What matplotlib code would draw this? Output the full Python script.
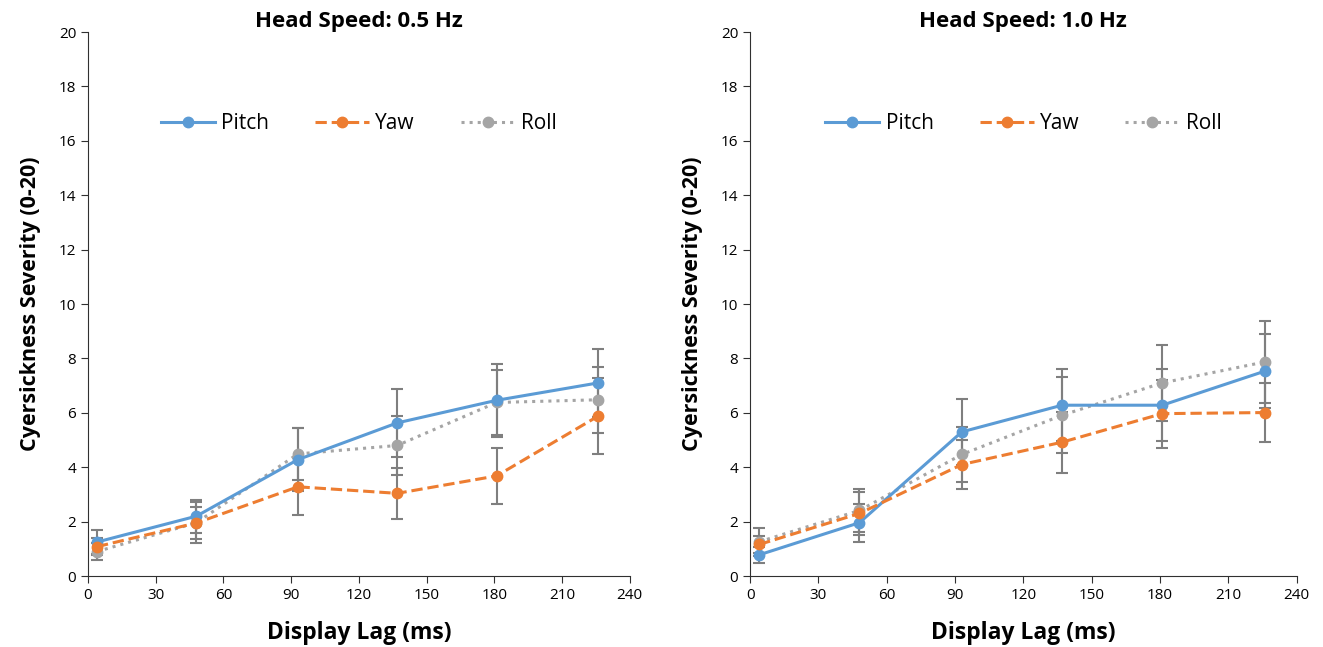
import numpy as np
import matplotlib.pyplot as plt

plt.rcParams['font.family'] = ['Open Sans', 'DejaVu Sans']

lag = [4, 48, 93, 137, 181, 226]

# Head speed 0.5 Hz
pitch_05 = [1.25, 2.2, 4.28, 5.63, 6.46, 7.1]
pitch_05_err = [0.45, 0.6, 1.15, 1.25, 1.34, 1.25]
yaw_05 = [1.08, 1.95, 3.28, 3.04, 3.68, 5.88]
yaw_05_err = [0.3, 0.6, 1.05, 0.94, 1.03, 1.4]
roll_05 = [0.9, 1.96, 4.49, 4.8, 6.38, 6.48]
roll_05_err = [0.3, 0.75, 0.95, 1.08, 1.2, 1.22]

# Head speed 1.0 Hz
pitch_10 = [0.78, 1.96, 5.3, 6.28, 6.28, 7.53]
pitch_10_err = [0.29, 0.7, 1.22, 1.33, 1.33, 1.35]
yaw_10 = [1.16, 2.3, 4.1, 4.92, 5.97, 6.01]
yaw_10_err = [0.3, 0.8, 0.9, 1.12, 1.25, 1.1]
roll_10 = [1.26, 2.41, 4.47, 5.91, 7.1, 7.87]
roll_10_err = [0.51, 0.8, 1.0, 1.4, 1.4, 1.5]

titles = ['Head Speed: 0.5 Hz', 'Head Speed: 1.0 Hz']
sets = [(pitch_05, pitch_05_err, yaw_05, yaw_05_err, roll_05, roll_05_err),
        (pitch_10, pitch_10_err, yaw_10, yaw_10_err, roll_10, roll_10_err)]

blue = '#5B9BD5'
orange = '#ED7D31'
grey = '#A5A5A5'
ecol = '#7F7F7F'

fig = plt.figure(figsize=(13.23, 6.47), dpi=100)
ax1 = fig.add_axes([0.0665, 0.1097, 0.4095, 0.8408])
ax2 = fig.add_axes([0.567, 0.1097, 0.413, 0.8408])

for ax, title, d in zip([ax1, ax2], titles, sets):
    p, pe, y, ye, r, re = d
    for v, e in [(p, pe), (y, ye), (r, re)]:
        ax.errorbar(lag, v, yerr=e, fmt='none', ecolor=ecol, elinewidth=1.5,
                    capsize=4, capthick=1.5, zorder=1)
    ax.plot(lag, p, '-', color=blue, lw=2.2, marker='o', ms=7.5, label='Pitch', zorder=3)
    ax.plot(lag, y, '--', color=orange, lw=2.2, marker='o', ms=7.5, label='Yaw', zorder=3)
    ax.plot(lag, r, ':', color=grey, lw=2.2, marker='o', ms=7.5, label='Roll', zorder=2)

    ax.set_xlim(0, 240)
    ax.set_ylim(0, 20)
    ax.set_xticks(np.arange(0, 241, 30))
    ax.set_yticks(np.arange(0, 21, 2))
    ax.tick_params(labelsize=11, direction='out', length=5, color='#303030')
    ax.spines['top'].set_visible(False)
    ax.spines['right'].set_visible(False)
    ax.spines['left'].set_color('#303030')
    ax.spines['bottom'].set_color('#303030')
    ax.set_title(title, fontsize=16, fontweight='bold', pad=1)
    ax.set_xlabel('Display Lag (ms)', fontsize=16.5, fontweight='bold', labelpad=13)
    ax.set_ylabel('Cyersickness Severity (0-20)', fontsize=15.5, fontweight='bold', labelpad=13)
    ax.legend(loc='upper center', bbox_to_anchor=(0.5, 0.885), ncol=3, frameon=False,
              fontsize=15, handlelength=2.6, columnspacing=2.2, handletextpad=0.3)

fig.savefig('out.png', dpi=100)
